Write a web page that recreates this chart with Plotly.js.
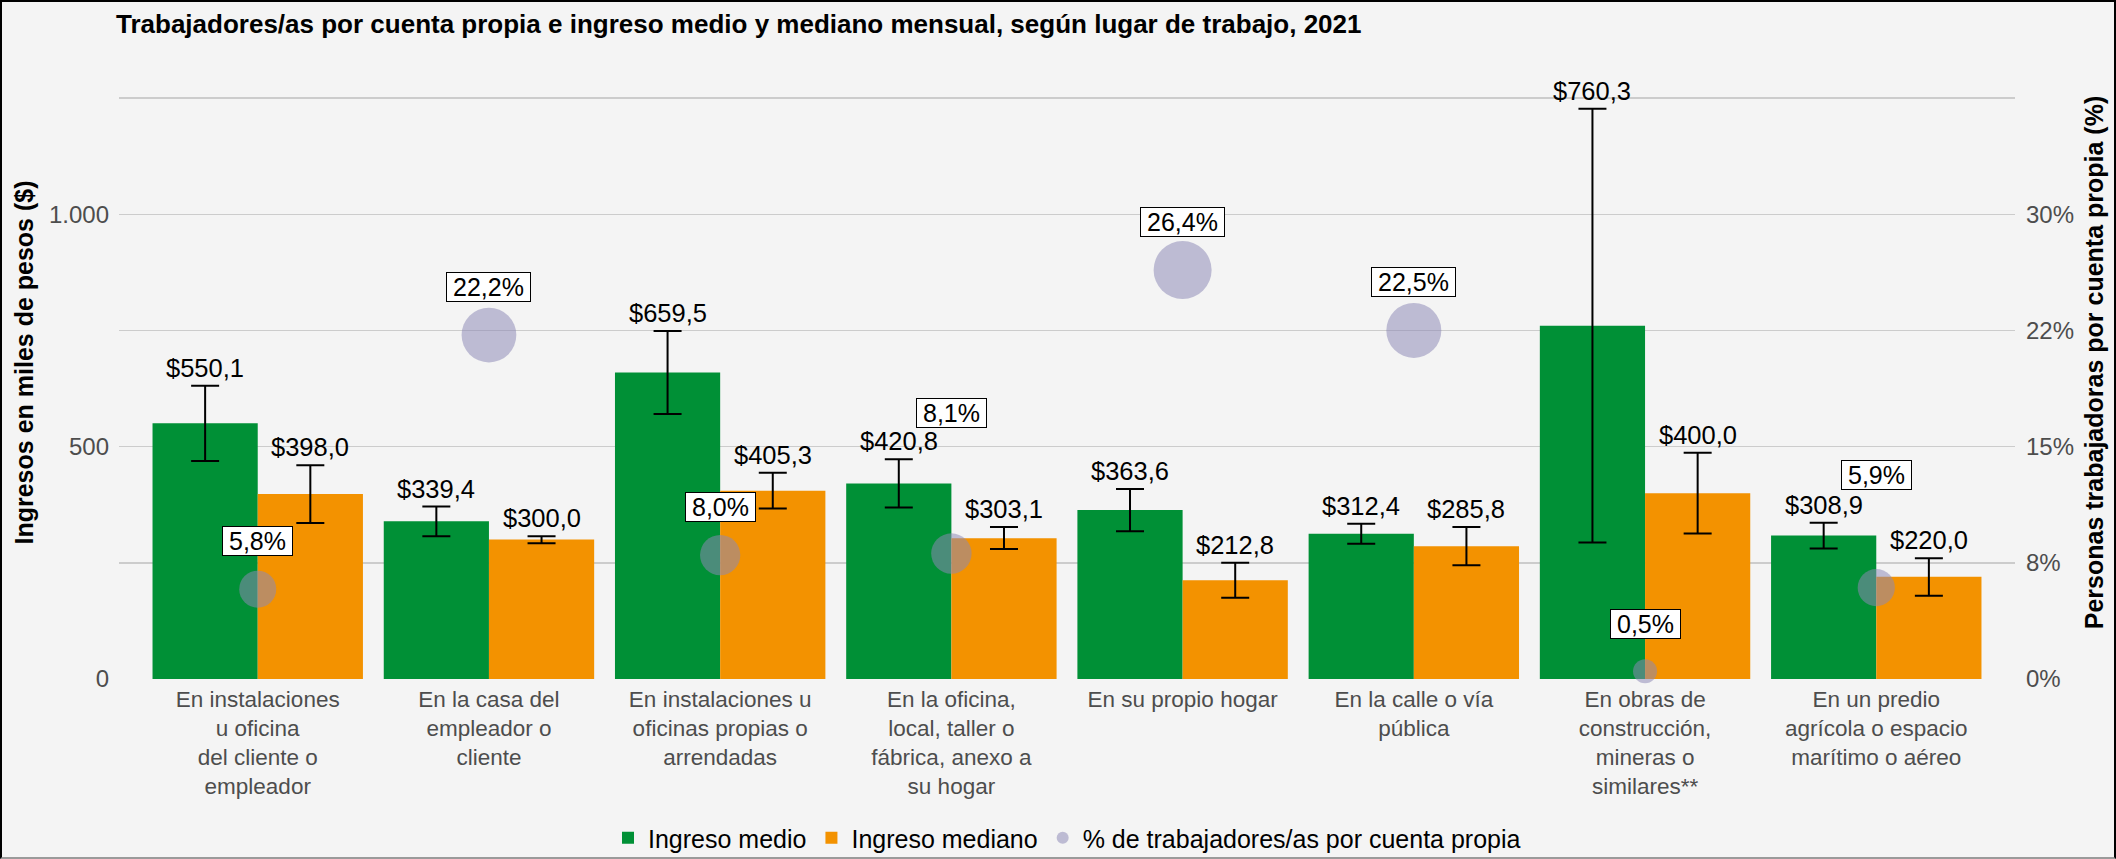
<!DOCTYPE html>
<html>
<head>
<meta charset="utf-8">
<script src="https://cdn.plot.ly/plotly-3.0.1.min.js"></script>
<style>
  html, body { margin: 0; padding: 0; background: #f4f4f4; overflow: hidden; }
  #chart { width: 2116px; height: 859px; }
  #frame { position: absolute; left: 0; top: 0; width: 2116px; height: 859px; box-sizing: border-box;
           border: 2px solid #000; border-bottom-color: #9a9a9a; pointer-events: none; }
</style>
</head>
<body>
<div id="chart"></div>
<div id="frame"></div>
<script>
// ---------------- data ----------------
const categories = [
  "En instalaciones<br>u oficina<br>del cliente o<br>empleador",
  "En la casa del<br>empleador o<br>cliente",
  "En instalaciones u<br>oficinas propias o<br>arrendadas",
  "En la oficina,<br>local, taller o<br>fábrica, anexo a<br>su hogar",
  "En su propio hogar",
  "En la calle o vía<br>pública",
  "En obras de<br>construcción,<br>mineras o<br>similares**",
  "En un predio<br>agrícola o espacio<br>marítimo o aéreo"
];
const ingresoMedio   = [550.1, 339.4, 659.5, 420.8, 363.6, 312.4, 760.3, 308.9];
const medioLow       = [469, 307, 570, 369, 318, 291, 294, 281];
const medioHigh      = [631, 371, 749, 473, 409, 334, 1227, 336.5];
const ingresoMediano = [398.0, 300.0, 405.3, 303.1, 212.8, 285.8, 400.0, 220.0];
const medianoLow     = [336, 292, 367, 280, 175, 245, 313, 179];
const medianoHigh    = [460, 307, 444, 327, 250, 327, 487, 260];
const pctCuentaPropia = [5.8, 22.2, 8.0, 8.1, 26.4, 22.5, 0.5, 5.9];

const leftTickVals  = [0, 500, 1000];
const leftTickText  = ["0", "500", "1.000"];
const rightTickVals = [0, 7.5, 15, 22.5, 30];
const rightTickText = ["0%", "8%", "15%", "22%", "30%"];

const seriesNames = ["Ingreso medio", "Ingreso mediano", "% de trabajadores/as por cuenta propia"];
const titleText = "Trabajadores/as por cuenta propia e ingreso medio y mediano mensual, según lugar de trabajo, 2021";
const yTitle = "Ingresos en miles de pesos ($)";
const y2Title = "Personas trabajadoras por cuenta propia (%)";

// ---------------- style / layout config ----------------
const FONT = '"Liberation Sans", Arial, Helvetica, sans-serif';
const GREEN = "#009036", ORANGE = "#f39200", DOT = "rgba(141,136,182,0.76)";
const W = 2116, H = 859;
const M = { l: 119, r: 101, t: 45, b: 179 };
const yRange = [-2, 1364];
const pctScale = 30 / 1000;               // 30% on the right axis aligns with 1.000 on the left
const y2Range = yRange.map(v => v * pctScale);
const xRange = [-0.6, categories.length - 1 + 0.6];
const bargap = 0.09;
const pctLabelLift = [48, 48, 48, 141, 48, 48, 47, 113]; // px above each dot
const dotMin = 24, dotMax = 58;

const fmtMoney = v => "$" + v.toFixed(1).replace(".", ",");
const fmtPct = v => v.toFixed(1).replace(".", ",") + "%";

// dot diameters: area scale (diameter linear in sqrt of value)
const sMin = Math.sqrt(Math.min(...pctCuentaPropia)), sMax = Math.sqrt(Math.max(...pctCuentaPropia));
const dotSizes = pctCuentaPropia.map(v => dotMin + (Math.sqrt(v) - sMin) / (sMax - sMin) * (dotMax - dotMin));

const traces = [
  {
    type: "bar", name: seriesNames[0], x: categories, y: ingresoMedio,
    marker: { color: GREEN },
    error_y: { type: "data", symmetric: false,
      array: medioHigh.map((h, i) => h - ingresoMedio[i]),
      arrayminus: medioLow.map((l, i) => ingresoMedio[i] - l),
      color: "#000", thickness: 2, width: 14 }
  },
  {
    type: "bar", name: seriesNames[1], x: categories, y: ingresoMediano,
    marker: { color: ORANGE },
    error_y: { type: "data", symmetric: false,
      array: medianoHigh.map((h, i) => h - ingresoMediano[i]),
      arrayminus: medianoLow.map((l, i) => ingresoMediano[i] - l),
      color: "#000", thickness: 2, width: 14 }
  },
  {
    type: "scatter", mode: "markers", name: seriesNames[2], x: categories, y: pctCuentaPropia,
    yaxis: "y2", cliponaxis: false,
    marker: { color: DOT, size: dotSizes, sizemode: "diameter", line: { width: 0 } }
  }
];

// value label positions derived from the bar geometry
const plotW = W - M.l - M.r;
const pitch = plotW / (xRange[1] - xRange[0]);
const barW = pitch * (1 - bargap) / 2;

const annotations = [];
categories.forEach((c, i) => {
  annotations.push({ x: c, y: medioHigh[i], xref: "x", yref: "y", xshift: -barW / 2, yshift: 18,
    text: fmtMoney(ingresoMedio[i]), showarrow: false, yanchor: "middle",
    font: { family: FONT, size: 25.5, color: "#000" } });
  annotations.push({ x: c, y: medianoHigh[i], xref: "x", yref: "y", xshift: barW / 2, yshift: 18,
    text: fmtMoney(ingresoMediano[i]), showarrow: false, yanchor: "middle",
    font: { family: FONT, size: 25.5, color: "#000" } });
});

const ctx = document.createElement("canvas").getContext("2d");
ctx.font = '25px "Liberation Sans"';
pctCuentaPropia.forEach((p, i) => {
  const t = fmtPct(p);
  annotations.push({ x: categories[i], y: p, xref: "x", yref: "y2", yshift: pctLabelLift[i],
    text: t, showarrow: false, yanchor: "middle",
    width: Math.ceil(ctx.measureText(t).width) + 12,
    bgcolor: "#ffffff", bordercolor: "#000", borderwidth: 1, borderpad: 0,
    font: { family: FONT, size: 25, color: "#000" } });
});

const layout = {
  width: W, height: H, margin: M,
  paper_bgcolor: "#f4f4f4", plot_bgcolor: "#f4f4f4",
  font: { family: FONT, color: "#000" },
  title: { text: titleText, font: { family: FONT, size: 26, weight: "bold", color: "#000" },
    xref: "container", yref: "container", x: 116 / W, xanchor: "left", y: 1 - 24 / H, yanchor: "middle" },
  barmode: "group", bargap: bargap, bargroupgap: 0,
  hovermode: false, showlegend: true,
  xaxis: { type: "category", range: xRange, showgrid: false, zeroline: false, showline: false,
    ticks: "", ticklabelstandoff: 3, tickfont: { family: FONT, size: 22.5, color: "#4d4d4d" }, automargin: false },
  yaxis: { range: yRange, tickvals: leftTickVals, ticktext: leftTickText, showgrid: true,
    gridcolor: "#cccccc", gridwidth: 1.4, zeroline: false, showline: false, ticks: "",
    ticklabelstandoff: 9, tickfont: { family: FONT, size: 24, color: "#4d4d4d" },
    minor: { dtick: 250, tick0: 0, showgrid: true, gridcolor: "#cccccc", gridwidth: 1.4, ticks: "" },
    title: { text: yTitle, standoff: 8, font: { family: FONT, size: 25, weight: "bold", color: "#000" } },
    automargin: false },
  yaxis2: { overlaying: "y", side: "right", range: y2Range, tickvals: rightTickVals, ticktext: rightTickText,
    showgrid: false, zeroline: false, showline: false, ticks: "", ticklabelstandoff: 10,
    tickfont: { family: FONT, size: 24, color: "#4d4d4d" },
    title: { text: y2Title, standoff: 12, font: { family: FONT, size: 25, weight: "bold", color: "#000" } },
    automargin: false },
  legend: { orientation: "h", xref: "paper", x: 0.5, xanchor: "center",
    yref: "container", y: 1 - 838 / H, yanchor: "middle",
    font: { family: FONT, size: 25, color: "#000" }, itemsizing: "constant",
    bgcolor: "rgba(0,0,0,0)", traceorder: "normal" },
  annotations: annotations
};

Plotly.newPlot("chart", traces, layout, { staticPlot: true, displayModeBar: false });
</script>
</body>
</html>
